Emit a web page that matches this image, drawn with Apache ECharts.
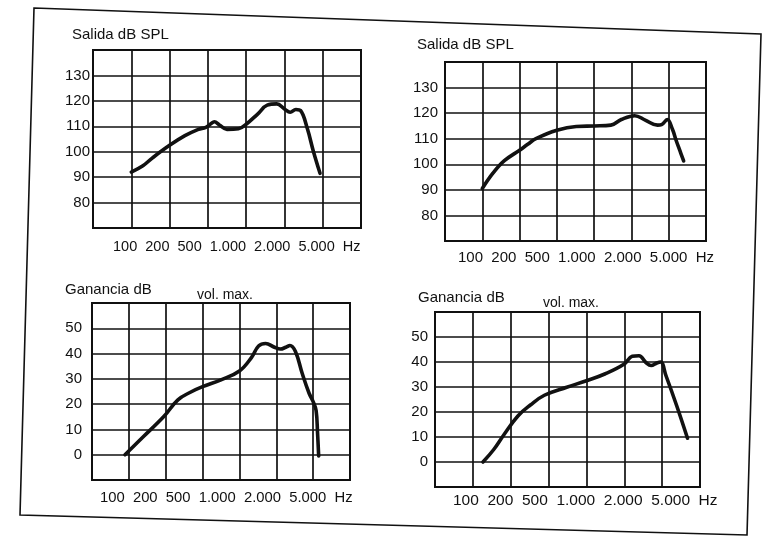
<!DOCTYPE html>
<html>
<head>
<meta charset="utf-8">
<script src="https://cdn.jsdelivr.net/npm/echarts@6/dist/echarts.min.js"></script>
<style>
html,body{margin:0;padding:0;background:#fff;}
#chart{width:762px;height:538px;}
</style>
</head>
<body>
<div id="chart"></div>
<script>
// ---- tick labels ----
const freqTickLabels = ['100', '200', '500', '1.000', '2.000', '5.000'];
const freqUnit = 'Hz';
const salidaTicks = [80, 90, 100, 110, 120, 130];
const gananciaTicks = [0, 10, 20, 30, 40, 50];

// ---- titles ----
const salidaTitle = 'Salida dB SPL';
const gananciaTitle = 'Ganancia dB';
const volTitle = 'vol. max.';

// ---- panel 1 (top left): Salida dB SPL ----
const salida1Freq = [128, 158, 187, 256, 338, 431, 494, 541, 576, 631, 724, 891, 1024, 1261, 1500, 1783, 2048, 2273, 2521, 2740, 3104, 3444, 3901];
const salida1Db   = [92, 94.5, 97.5, 102.5, 106.3, 108.8, 109.6, 111, 111.8, 110.5, 108.8, 109, 110.8, 114.8, 118.3, 118.8, 116.8, 115.5, 116.6, 116.2, 109, 100.5, 91.5];

// ---- panel 2 (top right): Salida dB SPL ----
const salida2Freq = [128, 156, 193, 256, 298, 347, 512, 734, 1024, 1399, 1697, 2180, 2646, 3327, 3590, 3984, 4390, 4705, 5043, 5405];
const salida2Db   = [90.5, 96.5, 101.4, 105.5, 107.8, 110, 113.3, 114.8, 115, 115.3, 117.5, 119, 117.3, 115.3, 115.5, 117.5, 113.7, 109.3, 105.3, 101.3];

// ---- panel 3 (bottom left): Ganancia dB ----
const ganancia1Freq = [119, 167, 247, 322, 407, 512, 724, 1024, 1287, 1468, 1675, 1978, 2211, 2452, 2647, 2936, 3327, 3795, 4096, 4330, 4452, 4545];
const ganancia1Db   = [0, 7, 15.1, 21.7, 24.7, 26.9, 29.6, 33.1, 38.5, 43, 44, 42.5, 41.8, 42.5, 43.2, 40.8, 32.3, 24.3, 21, 17.5, 8.4, -0.5];

// ---- panel 4 (bottom right): Ganancia dB ----
const ganancia2Freq = [154, 187, 226, 292, 367, 474, 714, 1024, 1448, 2048, 2368, 2683, 3040, 3349, 3717, 3984, 4390, 5331, 6516];
const ganancia2Db   = [0, 4.9, 10.9, 18.4, 22.8, 26.7, 29.9, 32.5, 35.3, 39.2, 42.3, 42.5, 39.8, 38.6, 39.6, 40, 34.6, 22.7, 9.5];

const FONT = 'Liberation Sans, Arial, sans-serif';
const INK = '#111';

const panels = [
  { freq: salida1Freq, db: salida1Db, ticks: salidaTicks, min: 70, max: 140,
    grid: { left: 93, top: 50, width: 268, height: 178 },
    row: { left: 113, top: 239, size: 14.5 }, yMargin: 3, yPad: 6 },
  { freq: salida2Freq, db: salida2Db, ticks: salidaTicks, min: 70, max: 140,
    grid: { left: 445, top: 62, width: 261, height: 179 },
    row: { left: 458, top: 250, size: 15 }, yMargin: 7, yPad: 7 },
  { freq: ganancia1Freq, db: ganancia1Db, ticks: gananciaTicks, min: -10, max: 60,
    grid: { left: 92, top: 303, width: 258, height: 177 },
    row: { left: 100, top: 490, size: 14.8 }, yMargin: 10, yPad: 6 },
  { freq: ganancia2Freq, db: ganancia2Db, ticks: gananciaTicks, min: -10, max: 60,
    grid: { left: 435, top: 312, width: 265, height: 175 },
    row: { left: 453, top: 493, size: 15.5 }, yMargin: 7, yPad: 0 }
];

const grids = [], xAxes = [], yAxes = [], series = [];
const rowText = freqTickLabels.concat([freqUnit]).join('  ');

const titleStyle = (size) => ({ color: INK, fontSize: size, fontWeight: 'normal', fontFamily: FONT });
const titles = [
  { text: salidaTitle, left: 72, top: 27, padding: 0, textStyle: titleStyle(15) },
  { text: salidaTitle, left: 417, top: 37, padding: 0, textStyle: titleStyle(15) },
  { text: gananciaTitle, left: 65, top: 282, padding: 0, textStyle: titleStyle(15) },
  { text: volTitle, left: 197, top: 288, padding: 0, textStyle: titleStyle(14) },
  { text: gananciaTitle, left: 418, top: 290, padding: 0, textStyle: titleStyle(15) },
  { text: volTitle, left: 543, top: 296, padding: 0, textStyle: titleStyle(14) }
];

panels.forEach((p, i) => {
  grids.push(Object.assign({ show: true, borderColor: INK, borderWidth: 2, backgroundColor: 'transparent' }, p.grid));
  xAxes.push({
    type: 'log', logBase: 2, min: 64, max: 8192, gridIndex: i,
    axisLine: { show: false }, axisTick: { show: false }, axisLabel: { show: false },
    splitLine: { show: true, lineStyle: { color: INK, width: 1.7 } }
  });
  const ticks = p.ticks;
  yAxes.push({
    type: 'value', min: p.min, max: p.max, interval: 10, gridIndex: i,
    axisLine: { show: false }, axisTick: { show: false },
    axisLabel: {
      margin: p.yMargin, color: INK, fontSize: 15, fontFamily: FONT,
      padding: [0, 0, p.yPad, 0],
      formatter: v => ticks.indexOf(v) >= 0 ? String(v) : ''
    },
    splitLine: { show: true, lineStyle: { color: INK, width: 1.7 } }
  });
  series.push({
    type: 'line', xAxisIndex: i, yAxisIndex: i,
    data: p.freq.map((f, k) => [f, p.db[k]]),
    smooth: 0.4, showSymbol: false, symbol: 'none',
    lineStyle: { color: INK, width: 3.6, cap: 'round', join: 'round' },
    silent: true
  });
  // frequency label row (tick labels + unit) under each panel
  titles.push({ text: rowText, left: p.row.left, top: p.row.top, padding: 0, textStyle: titleStyle(p.row.size) });
});

const chart = echarts.init(document.getElementById('chart'), null, { renderer: 'canvas' });
chart.setOption({
  backgroundColor: '#fff',
  animation: false,
  title: titles,
  grid: grids,
  xAxis: xAxes,
  yAxis: yAxes,
  series: series,
  graphic: [{
    type: 'polygon', silent: true,
    shape: { points: [[34, 8], [761, 34], [747, 535], [20, 515]] },
    style: { fill: 'none', stroke: INK, lineWidth: 1.6 }
  }]
});
</script>
</body>
</html>
